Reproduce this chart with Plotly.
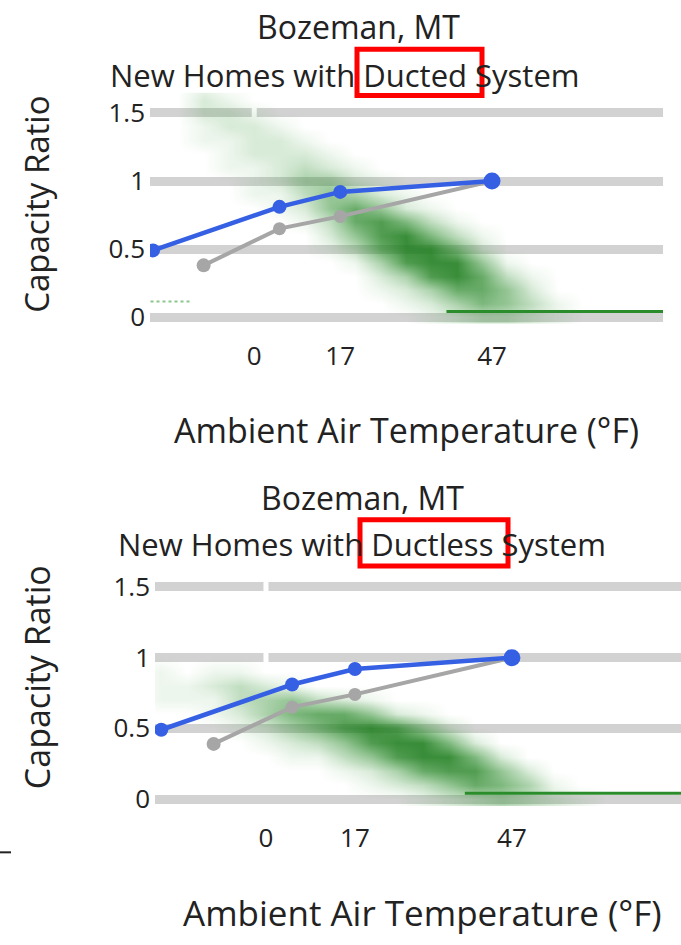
import plotly.graph_objects as go

W, H = 681, 945

# ---- data -------------------------------------------------------------
# Rated capacity ratio vs. outdoor temperature (°F)
cold_climate_temps = [-20, 5, 17, 47]
cold_climate_ratio_ducted = [0.49, 0.81, 0.92, 1.0]
cold_climate_ratio_ductless = [0.49, 0.81, 0.92, 1.0]

standard_temps = [-10, 5, 17, 47]
standard_ratio_ducted = [0.38, 0.65, 0.74, 1.0]
standard_ratio_ductless = [0.39, 0.65, 0.74, 1.0]

# Hourly heating-load ratio, binned: columns = temperature bins, rows = ratio bins
bin_temps = [-25, -20, -15, -10, -5, 0, 5, 10, 15, 20, 25, 30, 35, 40, 45, 50, 55, 60, 65]
bin_ratios = [0.0, 0.1, 0.2, 0.3, 0.4, 0.5, 0.6, 0.7, 0.8, 0.9,
              1.0, 1.1, 1.2, 1.3, 1.4, 1.5, 1.6, 1.7]

hours_ducted = [
    [0, 0, 0, 0, 0, 0, 0, 0, 0, 0, 0, 0, 1, 2, 3, 3, 2, 1, 0],  # 0.0
    [0, 0, 0, 0, 0, 0, 0, 0, 0, 0, 0, 1, 2, 4, 6, 5, 3, 1, 0],  # 0.1
    [0, 0, 0, 0, 0, 0, 0, 0, 0, 0, 1, 2, 4, 7, 7, 5, 2, 0, 0],  # 0.2
    [0, 0, 0, 0, 0, 0, 0, 0, 0, 0, 2, 4, 8, 9, 7, 3, 1, 0, 0],  # 0.3
    [0, 0, 0, 0, 0, 0, 0, 0, 0, 1, 4, 8, 9, 9, 5, 1, 0, 0, 0],  # 0.4
    [0, 0, 0, 0, 0, 0, 0, 0, 1, 3, 7, 9, 9, 6, 2, 0, 0, 0, 0],  # 0.5
    [0, 0, 0, 0, 0, 0, 0, 0, 2, 5, 8, 9, 6, 3, 1, 0, 0, 0, 0],  # 0.6
    [0, 0, 0, 0, 0, 0, 0, 1, 3, 7, 8, 6, 3, 1, 0, 0, 0, 0, 0],  # 0.7
    [0, 0, 0, 0, 0, 0, 1, 2, 5, 7, 5, 2, 1, 0, 0, 0, 0, 0, 0],  # 0.8
    [0, 0, 0, 0, 0, 1, 1, 3, 5, 4, 2, 1, 0, 0, 0, 0, 0, 0, 0],  # 0.9
    [0, 0, 0, 0, 0, 1, 2, 4, 4, 2, 1, 0, 0, 0, 0, 0, 0, 0, 0],  # 1.0
    [0, 0, 0, 0, 1, 1, 2, 3, 2, 1, 0, 0, 0, 0, 0, 0, 0, 0, 0],  # 1.1
    [0, 0, 0, 0, 1, 2, 2, 2, 1, 0, 0, 0, 0, 0, 0, 0, 0, 0, 0],  # 1.2
    [0, 0, 0, 1, 1, 2, 2, 1, 0, 0, 0, 0, 0, 0, 0, 0, 0, 0, 0],  # 1.3
    [0, 0, 0, 1, 2, 2, 1, 0, 0, 0, 0, 0, 0, 0, 0, 0, 0, 0, 0],  # 1.4
    [0, 0, 0, 2, 2, 1, 0, 0, 0, 0, 0, 0, 0, 0, 0, 0, 0, 0, 0],  # 1.5
    [0, 0, 0, 2, 1, 0, 0, 0, 0, 0, 0, 0, 0, 0, 0, 0, 0, 0, 0],  # 1.6
    [0, 0, 0, 1, 0, 0, 0, 0, 0, 0, 0, 0, 0, 0, 0, 0, 0, 0, 0],  # 1.7
]

hours_ductless = [
    [0, 0, 0, 0, 0, 0, 0, 0, 0, 0, 0, 1, 2, 3, 4, 3, 2, 1, 0],  # 0.0
    [0, 0, 0, 0, 0, 0, 0, 0, 0, 1, 2, 3, 5, 7, 6, 4, 1, 0, 0],  # 0.1
    [0, 0, 0, 0, 0, 0, 0, 0, 1, 2, 4, 7, 8, 8, 5, 2, 0, 0, 0],  # 0.2
    [0, 0, 0, 0, 0, 0, 1, 1, 3, 5, 8, 9, 9, 6, 2, 0, 0, 0, 0],  # 0.3
    [0, 0, 0, 0, 0, 1, 2, 3, 5, 8, 9, 9, 6, 2, 0, 0, 0, 0, 0],  # 0.4
    [0, 0, 0, 0, 1, 2, 4, 6, 8, 9, 8, 5, 2, 0, 0, 0, 0, 0, 0],  # 0.5
    [0, 0, 0, 1, 2, 4, 6, 7, 7, 5, 2, 1, 0, 0, 0, 0, 0, 0, 0],  # 0.6
    [0, 1, 1, 1, 3, 4, 5, 3, 2, 1, 0, 0, 0, 0, 0, 0, 0, 0, 0],  # 0.7
    [0, 1, 1, 2, 3, 2, 1, 0, 0, 0, 0, 0, 0, 0, 0, 0, 0, 0, 0],  # 0.8
    [0, 1, 0, 1, 1, 0, 0, 0, 0, 0, 0, 0, 0, 0, 0, 0, 0, 0, 0],  # 0.9
    [0, 0, 0, 0, 0, 0, 0, 0, 0, 0, 0, 0, 0, 0, 0, 0, 0, 0, 0],  # 1.0
    [0, 0, 0, 0, 0, 0, 0, 0, 0, 0, 0, 0, 0, 0, 0, 0, 0, 0, 0],  # 1.1
    [0, 0, 0, 0, 0, 0, 0, 0, 0, 0, 0, 0, 0, 0, 0, 0, 0, 0, 0],  # 1.2
    [0, 0, 0, 0, 0, 0, 0, 0, 0, 0, 0, 0, 0, 0, 0, 0, 0, 0, 0],  # 1.3
    [0, 0, 0, 0, 0, 0, 0, 0, 0, 0, 0, 0, 0, 0, 0, 0, 0, 0, 0],  # 1.4
    [0, 0, 0, 0, 0, 0, 0, 0, 0, 0, 0, 0, 0, 0, 0, 0, 0, 0, 0],  # 1.5
    [0, 0, 0, 0, 0, 0, 0, 0, 0, 0, 0, 0, 0, 0, 0, 0, 0, 0, 0],  # 1.6
    [0, 0, 0, 0, 0, 0, 0, 0, 0, 0, 0, 0, 0, 0, 0, 0, 0, 0, 0],  # 1.7
]

# Warm hours with (almost) no heating load
idle_temps_ducted = [38, 81]
idle_temps_ductless = [38, 80]
idle_ratio = [0.04, 0.04]

# Handful of very cold hours at low ratio (ducted only)
cold_tail_temps = [-20.5, -12.5]
cold_tail_ratio = [0.115, 0.115]

x_ticks = [0, 17, 47]
y_ticks = [0, 0.5, 1, 1.5]
y_tick_text = ["0", "0.5", "1", "1.5"]

# ---- styling ------------------------------------------------------------
FONT = "Open Sans"
TXT = "#222222"
BLUE = "#3660e4"
GRAY = "#a6a6a6"
GREEN = "#2a8c2a"
GRID = "#d2d2d2"

density_scale = [
    [0.0, "rgba(70,160,70,0)"],
    [0.11, "rgba(80,165,80,0.10)"],
    [0.33, "rgba(60,150,60,0.32)"],
    [0.67, "rgba(45,140,45,0.62)"],
    [1.0, "rgba(30,125,30,0.88)"],
]


def px_x(p):
    return p / W


def px_y(p):
    return 1 - p / H


fig = go.Figure()

panels = [
    dict(xa="x", ya="y", hours=hours_ducted,
         cold=cold_climate_ratio_ducted, std=standard_ratio_ducted,
         idle=idle_temps_ducted, tail=True),
    dict(xa="x2", ya="y2", hours=hours_ductless,
         cold=cold_climate_ratio_ductless, std=standard_ratio_ductless,
         idle=idle_temps_ductless, tail=False),
]

for p in panels:
    fig.add_trace(go.Heatmap(
        x=bin_temps, y=bin_ratios, z=p["hours"], zmin=0, zmax=9,
        colorscale=density_scale, showscale=False, zsmooth="best",
        hoverinfo="skip", xaxis=p["xa"], yaxis=p["ya"]))
    fig.add_trace(go.Scatter(
        x=p["idle"], y=idle_ratio, mode="lines",
        line=dict(color=GREEN, width=3), hoverinfo="skip",
        xaxis=p["xa"], yaxis=p["ya"]))
    if p["tail"]:
        fig.add_trace(go.Scatter(
            x=cold_tail_temps, y=cold_tail_ratio, mode="lines",
            line=dict(color="rgba(60,160,60,0.6)", width=2, dash="dot"),
            hoverinfo="skip", xaxis=p["xa"], yaxis=p["ya"]))
    fig.add_trace(go.Scatter(
        x=standard_temps, y=p["std"], mode="lines+markers",
        line=dict(color=GRAY, width=4),
        marker=dict(color=GRAY, size=[14, 13, 13, 13], opacity=1,
                    line=dict(width=0)),
        xaxis=p["xa"], yaxis=p["ya"]))
    fig.add_trace(go.Scatter(
        x=cold_climate_temps, y=p["cold"], mode="lines+markers",
        line=dict(color=BLUE, width=4.5),
        marker=dict(color=BLUE, size=[14, 14, 14, 17], opacity=1,
                    line=dict(width=0)),
        xaxis=p["xa"], yaxis=p["ya"]))

axis_common = dict(showline=False, zeroline=False, ticks="",
                   tickfont=dict(family=FONT, size=26, color=TXT))

fig.update_layout(
    width=W, height=H, autosize=False,
    margin=dict(l=0, r=0, t=0, b=0),
    paper_bgcolor="white", plot_bgcolor="white",
    showlegend=False,
    font=dict(family=FONT, color=TXT),
    xaxis=dict(domain=[px_x(150), px_x(663)], range=[-20.6, 80.8],
               showgrid=False, tickvals=x_ticks, ticklabelstandoff=14,
               anchor="y", **axis_common),
    yaxis=dict(domain=[px_y(324), px_y(89)], range=[-0.05, 1.65],
               showgrid=True, gridcolor=GRID, gridwidth=9,
               tickvals=y_ticks, ticktext=y_tick_text, ticklabelstandoff=4,
               anchor="x", **axis_common),
    xaxis2=dict(domain=[px_x(155), px_x(681)], range=[-21.2, 79.3],
                showgrid=False, tickvals=x_ticks, ticklabelstandoff=14,
                anchor="y2", **axis_common),
    yaxis2=dict(domain=[px_y(814), px_y(577)], range=[-0.05, 1.6],
                showgrid=True, gridcolor=GRID, gridwidth=9,
                tickvals=y_ticks, ticktext=y_tick_text, ticklabelstandoff=4,
                anchor="x2", **axis_common),
)


def label(text, cx, cy, size, angle=0):
    fig.add_annotation(text=text, x=px_x(cx), y=px_y(cy), xref="paper", yref="paper",
                       xanchor="center", yanchor="middle", showarrow=False,
                       textangle=angle, font=dict(family=FONT, size=size, color=TXT))


label("Bozeman, MT", 358, 22, 32)
label("New Homes with Ducted System", 345, 71, 31)
label("Capacity Ratio", 37, 203, 33, -90)
label("Ambient Air Temperature (°F)", 406, 432, 34)

label("Bozeman, MT", 362, 500, 32)
label("New Homes with Ductless System", 362, 548, 31)
label("Capacity Ratio", 37, 683, 34, -90)
label("Ambient Air Temperature (°F)", 422, 922, 35)

# white break in the upper gridlines at 0 °F
fig.add_shape(type="line", xref="x", yref="y", x0=0, x1=0, y0=1.35, y1=1.65,
              line=dict(color="white", width=5), layer="between")
fig.add_shape(type="line", xref="x2", yref="y2", x0=0, x1=0, y0=0.85, y1=1.6,
              line=dict(color="white", width=5), layer="between")

# highlight boxes around the system type
for x0, y0, x1, y1 in [(357, 45, 482, 92), (360, 523, 508, 570)]:
    fig.add_shape(type="rect", xref="paper", yref="paper",
                  x0=px_x(x0), x1=px_x(x1), y0=px_y(y1), y1=px_y(y0),
                  line=dict(color="#ff0000", width=5), fillcolor="rgba(0,0,0,0)",
                  layer="above")

# short rule at the lower-left margin
fig.add_shape(type="line", xref="paper", yref="paper",
              x0=0, x1=px_x(11), y0=px_y(861), y1=px_y(861),
              line=dict(color="#222222", width=2))

fig.write_html("out.html")
